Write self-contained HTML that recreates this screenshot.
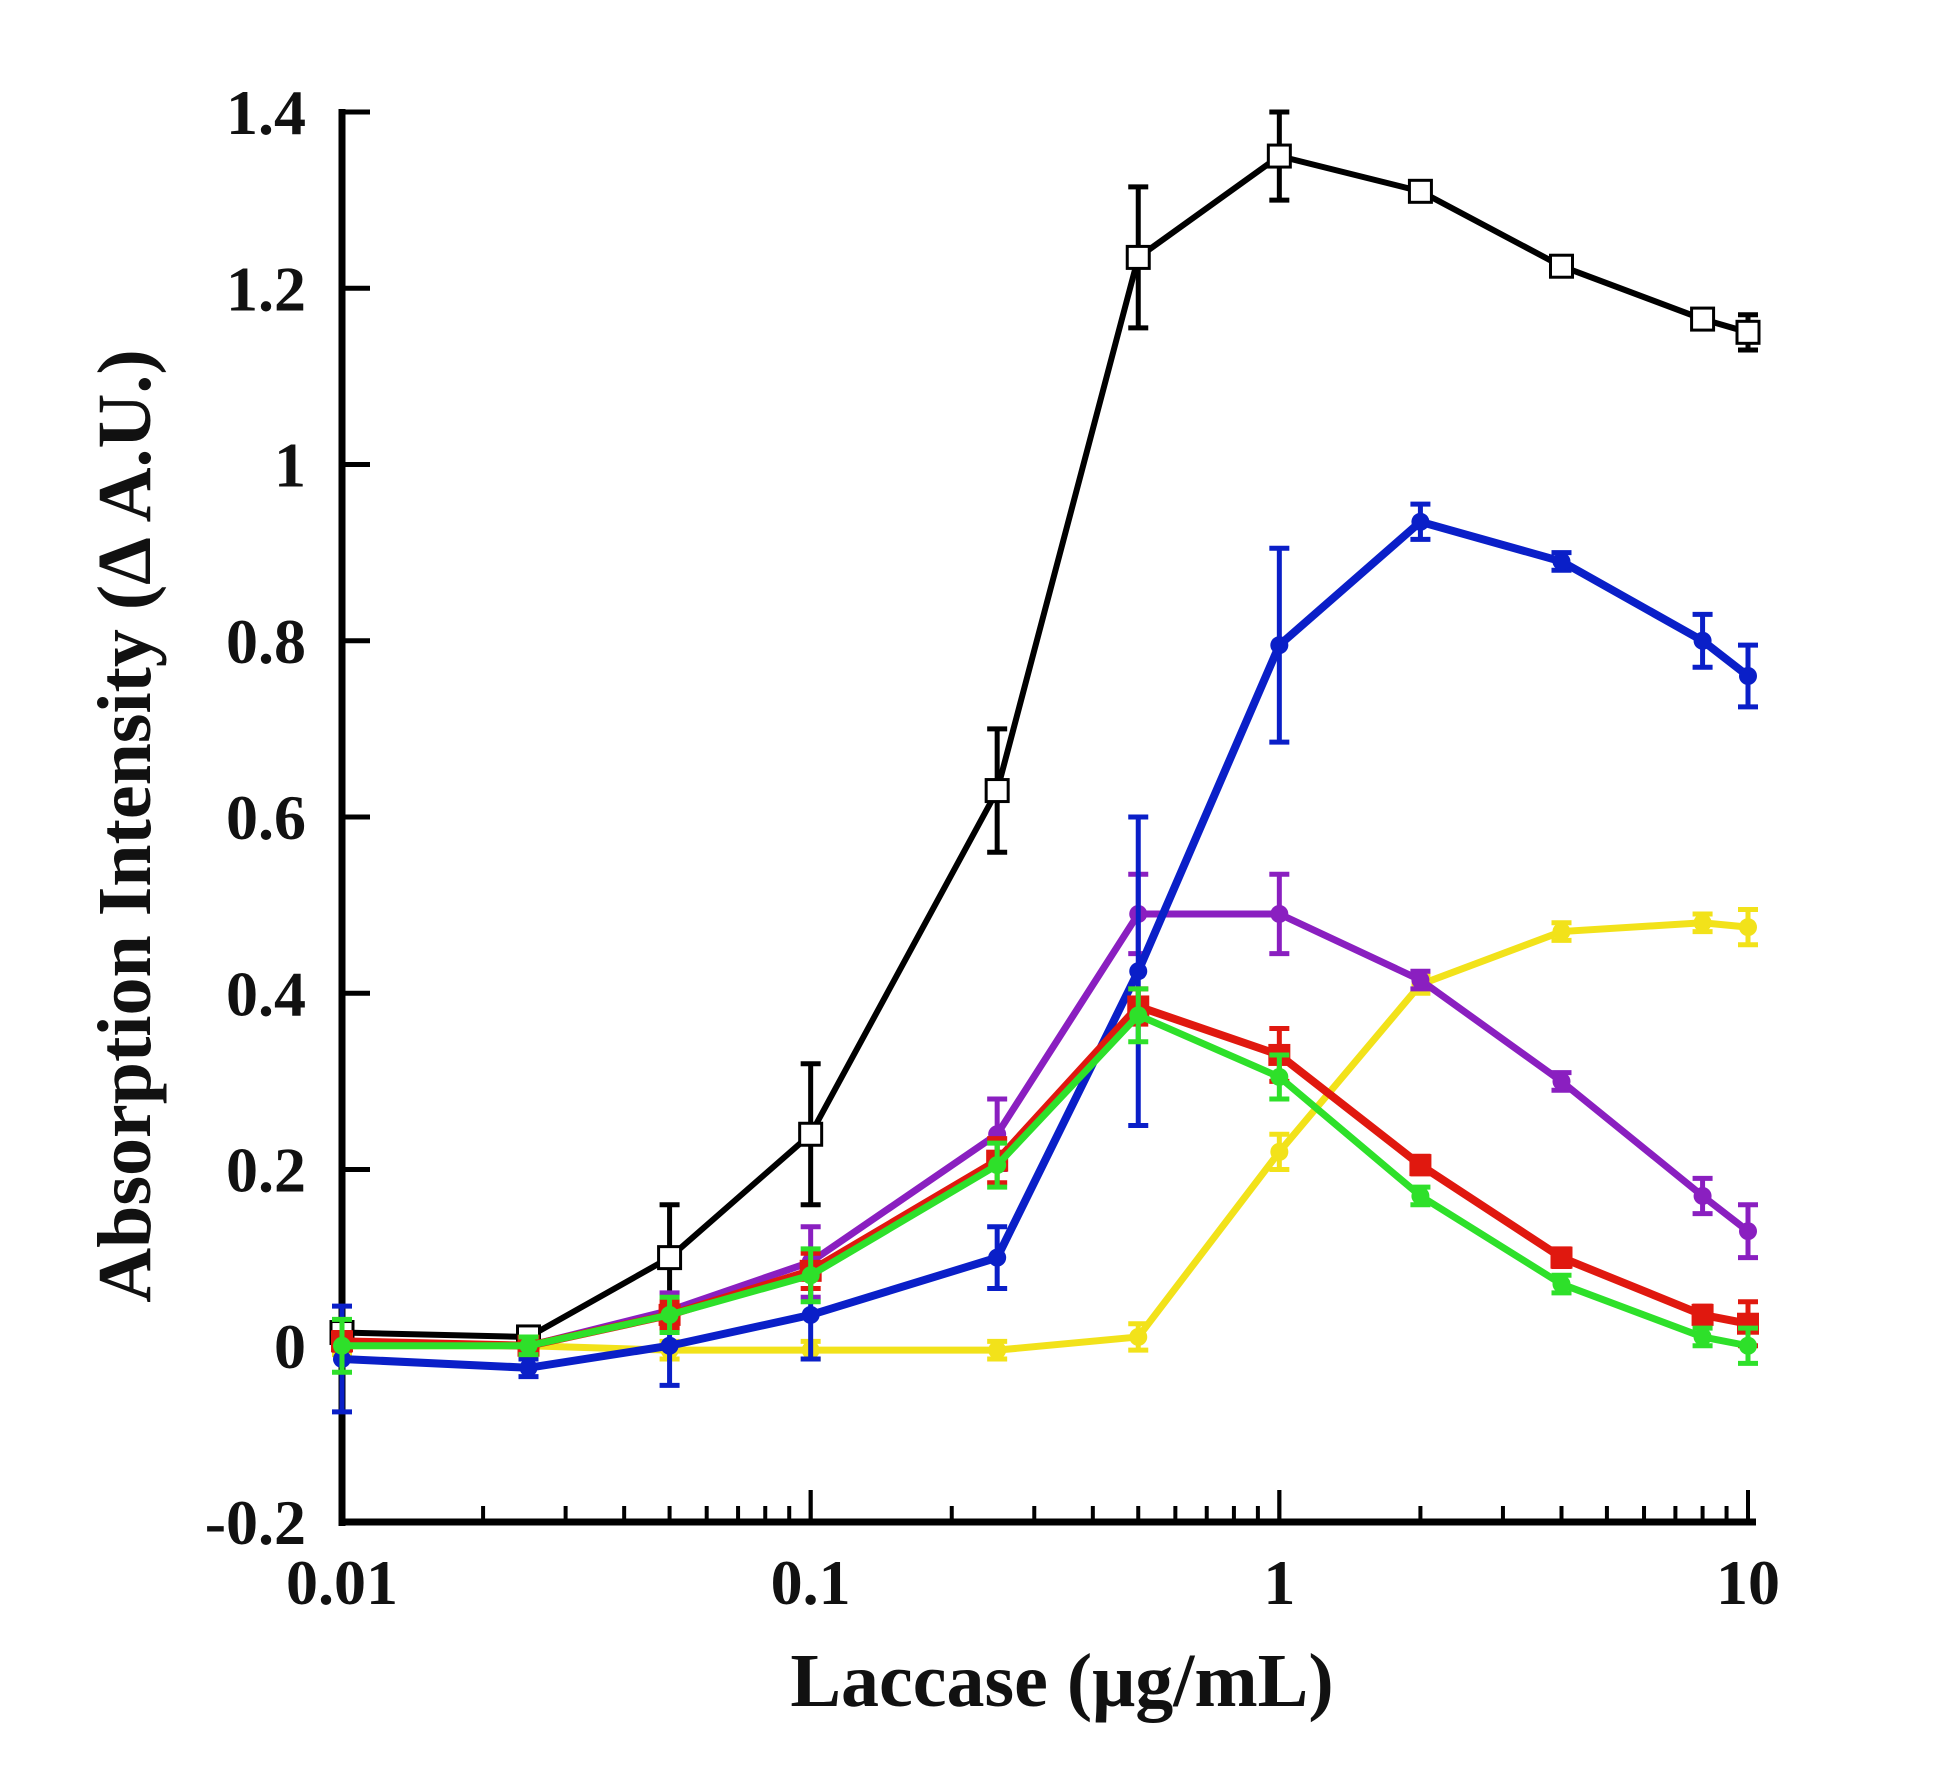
<!DOCTYPE html>
<html><head><meta charset="utf-8"><style>body{margin:0;background:#fff}svg{display:block}text{font-family:"Liberation Serif",serif;font-weight:bold;fill:#111}</style></head>
<body>
<svg id="chart" width="1940" height="1784" viewBox="0 0 1940 1784"></svg>
<script>
const xs=[0.01,0.025,0.05,0.1,0.25,0.5,1,2,4,8,10];
const blackVals=[0.015,0.01,0.10,0.24,0.63,1.235,1.35,1.31,1.225,1.165,1.15];
const blackErr=[0.01,0.01,0.06,0.08,0.07,0.08,0.05,0.01,0.01,0.01,0.02];
const yellowVals=[0.0,0.0,-0.005,-0.005,-0.005,0.01,0.22,0.41,0.47,0.48,0.475];
const yellowErr=[0.01,0.01,0.01,0.01,0.01,0.015,0.02,0.01,0.01,0.01,0.02];
const purpleVals=[0.005,0.0,0.04,0.095,0.24,0.49,0.49,0.415,0.30,0.17,0.13];
const purpleErr=[0.01,0.01,0.02,0.04,0.04,0.045,0.045,0.01,0.01,0.02,0.03];
const blueVals=[-0.015,-0.025,0.0,0.035,0.10,0.425,0.795,0.935,0.89,0.80,0.76];
const blueErr=[0.06,0.01,0.045,0.05,0.035,0.175,0.11,0.02,0.01,0.03,0.035];
const redVals=[0.005,0.0,0.035,0.085,0.21,0.385,0.33,0.205,0.10,0.035,0.025];
const redErr=[0.01,0.01,0.015,0.02,0.025,0.02,0.03,0.01,0.01,0.01,0.025];
const greenVals=[0.0,0.0,0.035,0.08,0.205,0.375,0.305,0.17,0.07,0.01,0.0];
const greenErr=[0.03,0.01,0.02,0.03,0.025,0.03,0.025,0.01,0.01,0.01,0.02];
const yTicks=[-0.2,0,0.2,0.4,0.6,0.8,1,1.2,1.4];
const yTickLabels=["-0.2","0","0.2","0.4","0.6","0.8","1","1.2","1.4"];
const xTicks=[0.01,0.1,1,10];
const xTickLabels=["0.01","0.1","1","10"];

const NS="http://www.w3.org/2000/svg",svg=document.getElementById('chart');
const X0=342,X1=1748,Y0=1522,Y1=112;
const sx=v=>X0+(Math.log10(v)+2)/3*(X1-X0);
const sy=v=>Y0-(v+0.2)/1.6*(Y0-Y1);
function mk(t,a,p){const e=document.createElementNS(NS,t);for(const k in a)e.setAttribute(k,a[k]);(p||svg).appendChild(e);return e;}
const ax=mk('g',{});


mk('line',{x1:X0,y1:Y1-3,x2:X0,y2:Y0+4,stroke:'#000','stroke-width':7},ax);
mk('line',{x1:X0-3,y1:Y0,x2:X1+8,y2:Y0,stroke:'#000','stroke-width':7},ax);
yTicks.forEach((v,i)=>{
 mk('line',{x1:X0,y1:sy(v),x2:X0+28,y2:sy(v),stroke:'#000','stroke-width':5},ax);
 const t=mk('text',{x:306,y:sy(v)+22,'text-anchor':'end','font-size':64},ax);t.textContent=yTickLabels[i];
 
 
});
for(let d=0;d<3;d++)for(let m=1;m<=10;m++){const v=Math.pow(10,d-2)*m;
 mk('line',{x1:sx(v),y1:Y0,x2:sx(v),y2:Y0-(m==1||m==10?32:16),stroke:'#000','stroke-width':4},ax);}
xTicks.forEach((v,i)=>{const t=mk('text',{x:sx(v),y:1604,'text-anchor':'middle','font-size':64},ax);t.textContent=xTickLabels[i];
 
 });
const xt=mk('text',{x:1062,y:1706,'text-anchor':'middle','font-size':76});xt.textContent='Laccase (μg/mL)';


const yt=mk('text',{x:0,y:0,'text-anchor':'middle','font-size':76,transform:'translate(150,826) rotate(-90)'});yt.textContent='Absorption Intensity (Δ A.U.)';



function series(name,vals,errs,color,marker,lw){
 const g=mk('g',{});
 
 
 mk('polyline',{points:xs.map((x,i)=>sx(x)+','+sy(vals[i])).join(' '),fill:'none',stroke:color,'stroke-width':lw},g);
 xs.forEach((x,i)=>{const cx=sx(x),t=sy(vals[i]+errs[i]),b=sy(vals[i]-errs[i]);
  mk('path',{d:`M${cx},${t}V${b}M${cx-10},${t}H${cx+10}M${cx-10},${b}H${cx+10}`,stroke:color,'stroke-width':5,fill:'none'},g);
  const cy=sy(vals[i]);let m;
  if(marker=='sq-open')m=mk('rect',{x:cx-11,y:cy-11,width:22,height:22,fill:'#fff',stroke:color,'stroke-width':3},g);
  else if(marker=='sq')m=mk('rect',{x:cx-11,y:cy-11,width:22,height:22,fill:color},g);
  else m=mk('circle',{cx:cx,cy:cy,r:9,fill:color},g);
  
  
 });
}
series('black',blackVals,blackErr,'#000','sq-open',6);
series('yellow',yellowVals,yellowErr,'#f2e21a','circ',7);
series('purple',purpleVals,purpleErr,'#8a1fc0','circ',7);
series('blue',blueVals,blueErr,'#0a1fc8','circ',8);
series('red',redVals,redErr,'#e0180f','sq',8);
series('green',greenVals,greenErr,'#2ee02a','circ',7);
</script>
</body></html>
